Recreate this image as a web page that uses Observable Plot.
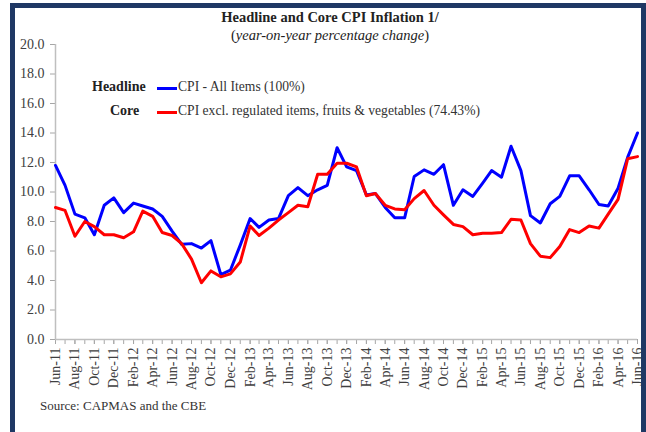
<!DOCTYPE html>
<html><head><meta charset="utf-8">
<script src="https://cdn.jsdelivr.net/npm/d3@7"></script>
<script src="https://cdn.jsdelivr.net/npm/@observablehq/plot@0.6"></script>
<style>
body{margin:0;background:#fff;}
#wrap{position:relative;width:646px;height:432px;overflow:hidden;font-family:"Liberation Serif","Times New Roman",serif;color:#222;}
#frame{position:absolute;left:10px;top:3px;width:636px;height:460px;border:5px solid #1f3864;border-bottom:none;box-sizing:border-box;pointer-events:none;}
.t{position:absolute;white-space:nowrap;}
#plot{position:absolute;left:0;top:0;}
#plot svg, #plot svg text{font-family:"Liberation Serif","Times New Roman",serif !important;}
.sw{position:absolute;width:20px;height:3px;}
</style></head>
<body>
<div id="wrap">
  <div id="plot"></div>
  <div class="t" style="left:0;width:660px;text-align:center;top:9px;font-size:14.5px;font-weight:bold;">Headline and Core CPI Inflation 1/</div>
  <div class="t" style="left:0;width:660px;text-align:center;top:27px;font-size:14.5px;">(<i>year-on-year percentage change</i>)</div>
  <div class="t" style="left:92px;top:79px;font-size:14px;font-weight:bold;">Headline</div>
  <div class="sw" style="left:157px;top:87px;background:#0000ff;"></div>
  <div class="t" style="left:178px;top:79px;font-size:13.6px;color:#333;">CPI - All Items (100%)</div>
  <div class="t" style="left:110px;top:103px;font-size:14px;font-weight:bold;">Core</div>
  <div class="sw" style="left:157px;top:111px;background:#ff0000;"></div>
  <div class="t" style="left:178px;top:103px;font-size:13.6px;color:#333;">CPI excl. regulated items, fruits &amp; vegetables (74.43%)</div>
  <div class="t" style="left:40px;top:398px;font-size:13px;color:#333;">Source: CAPMAS and the CBE</div>
  <div id="frame"></div>
</div>
<script>
const seriesNames = ["Headline", "Core"];
const headline = [11.8,10.45,8.5,8.25,7.1,9.1,9.6,8.6,9.25,9.05,8.85,8.35,7.35,6.45,6.5,6.2,6.7,4.4,4.7,6.4,
  8.2,7.6,8.1,8.2,9.75,10.3,9.75,10.15,10.45,13.0,11.7,11.45,9.8,9.9,8.95,8.25,8.25,11.05,11.5,11.2,
  11.85,9.1,10.15,9.7,10.6,11.45,11.0,13.1,11.45,8.4,7.9,9.2,9.7,11.1,11.1,10.15,9.15,9.05,10.25,12.35,14.0];
const core = [8.95,8.75,7.0,8.0,7.65,7.1,7.1,6.9,7.3,8.7,8.35,7.25,7.05,6.5,5.45,3.85,4.65,4.25,4.45,5.25,
  7.7,7.05,7.55,8.1,8.6,9.1,9.0,11.2,11.2,11.95,11.95,11.7,9.75,9.9,9.1,8.85,8.8,9.55,10.1,9.1,
  8.45,7.8,7.65,7.1,7.2,7.2,7.25,8.15,8.1,6.5,5.65,5.55,6.3,7.45,7.25,7.7,7.55,8.5,9.5,12.25,12.4];
const yTicks = [0,2,4,6,8,10,12,14,16,18,20];

const months = d3.utcMonth.range(new Date(Date.UTC(2011,5,1)), new Date(Date.UTC(2016,6,1)));
const labelMonths = months.filter((d,i) => i % 2 === 0);
const rows = months.flatMap((d,i) => [
  {date: d, value: headline[i], series: "Headline"},
  {date: d, value: core[i], series: "Core"}
]);
const fmt = d3.utcFormat("%b-%y");

const chart = Plot.plot({
  width: 646, height: 432,
  marginLeft: 55, marginRight: 9, marginTop: 44, marginBottom: 93,
  style: {fontFamily: '"Liberation Serif","Times New Roman",serif', background: "transparent"},
  x: {type: "utc", domain: [months[0], months[months.length-1]]},
  y: {domain: [0, 20]},
  color: {domain: seriesNames, range: ["#0000ff", "#ff0000"]},
  marks: [
    Plot.axisY({ticks: yTicks, tickSize: 5, tickPadding: 6, tickFormat: d => d.toFixed(1), fontSize: 14, stroke: "#a6a6a6", fill: "#404040", label: null}),
    Plot.axisX({ticks: months, tickSize: 5, tickFormat: () => "", stroke: "#a6a6a6", label: null}),
    Plot.axisX({ticks: labelMonths, tickSize: 5, tickPadding: 3, tickRotate: -90, tickFormat: fmt, fontSize: 14, stroke: "#a6a6a6", fill: "#404040", label: null}),
    Plot.ruleX([months[0]], {y1: 0, y2: 20, stroke: "#bfbfbf", strokeWidth: 1.5}),
    Plot.ruleY([0], {stroke: "#bfbfbf", strokeWidth: 1.5}),
    Plot.lineY(rows, {x: "date", y: "value", stroke: "series", strokeWidth: 3, curve: "linear"})
  ]
});
document.getElementById("plot").appendChild(chart);
</script>
</body></html>
